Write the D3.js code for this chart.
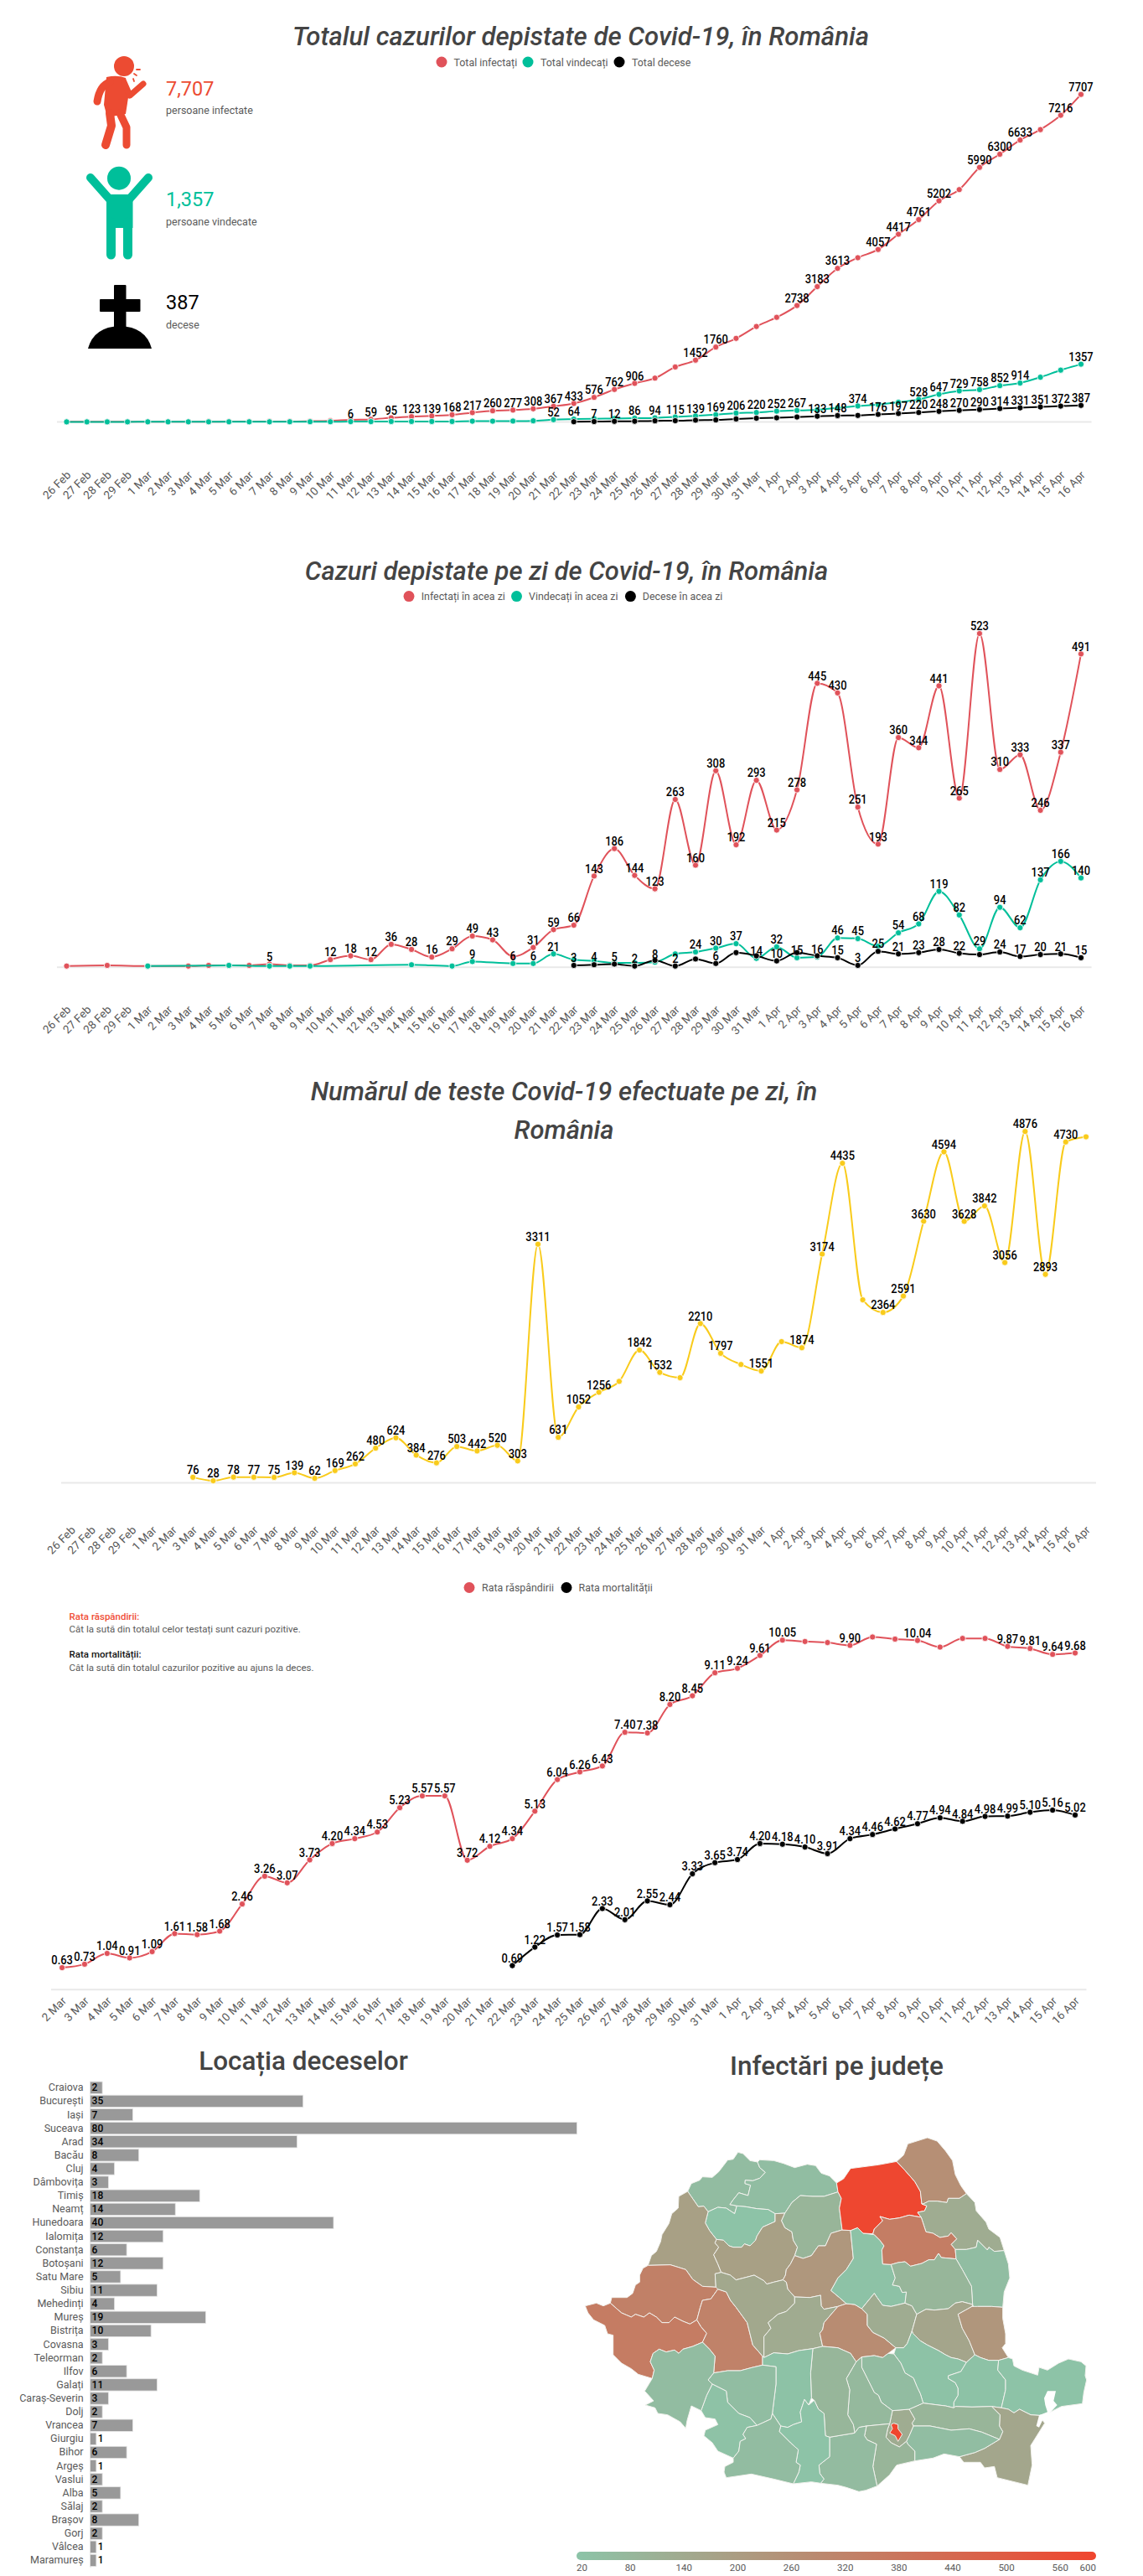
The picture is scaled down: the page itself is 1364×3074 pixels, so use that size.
<!DOCTYPE html>
<html>
<head>
<meta charset="utf-8">
<script src="https://d3js.org/d3.v7.min.js"></script>
<style>
  html, body { margin: 0; padding: 0; background: #fff; }
  svg { display: block; font-family: Roboto, sans-serif; }
</style>
</head>
<body>
<svg id="chart" width="1364" height="3074"></svg>
<script>
// Etichete zile
const daysAll = ["26 Feb","27 Feb","28 Feb","29 Feb","1 Mar","2 Mar","3 Mar","4 Mar","5 Mar","6 Mar","7 Mar","8 Mar","9 Mar","10 Mar","11 Mar","12 Mar","13 Mar","14 Mar","15 Mar","16 Mar","17 Mar","18 Mar","19 Mar","20 Mar","21 Mar","22 Mar","23 Mar","24 Mar","25 Mar","26 Mar","27 Mar","28 Mar","29 Mar","30 Mar","31 Mar","1 Apr","2 Apr","3 Apr","4 Apr","5 Apr","6 Apr","7 Apr","8 Apr","9 Apr","10 Apr","11 Apr","12 Apr","13 Apr","14 Apr","15 Apr","16 Apr"];
const daysRate = daysAll.slice(5);

// Total cazuri
const totalInfected = [1,1,1,3,3,3,3,4,6,7,9,9,15,25,47,59,95,123,139,168,217,260,277,308,367,433,576,762,906,1029,1292,1452,1760,1965,2245,2460,2738,3183,3613,3864,4057,4417,4761,5202,5467,5990,6300,6633,6879,7216,7707];
const totalRecovered = [0,0,0,0,1,1,1,1,2,2,2,3,3,3,6,6,9,9,9,9,16,16,19,25,52,64,74,79,86,94,115,139,169,206,220,252,267,283,329,374,407,460,528,647,729,758,852,914,1051,1217,1357];
const totalDeaths = [null,null,null,null,null,null,null,null,null,null,null,null,null,null,null,null,null,null,null,null,null,null,null,null,null,3,7,12,14,25,27,39,45,68,86,96,115,133,148,151,176,197,220,248,270,290,314,331,351,372,387];
const totalInfectedNoLabel = [0,1,2,3,4,5,6,7,8,9,10,11,12,13,14,29,30,33,34,35,39,44,48];
const totalRecoveredLabels = [14,24,25,28,29,30,31,32,33,34,35,36,39,42,43,44,45,46,47,50];
const totalDeathsLabels = [26,27,37,38,40,41,42,43,44,45,46,47,48,49,50];

// Cazuri pe zi
const dailyInfected = [2,null,3,null,2,null,2,3,3,3,5,3,3,12,18,12,36,28,16,29,49,43,17,31,59,66,143,186,144,123,263,160,308,192,293,215,278,445,430,251,193,360,344,441,265,523,310,333,246,337,491];
const dailyRecovered = [null,null,null,null,2,null,null,null,3,null,2,2,2,null,null,null,null,4,null,2,9,null,6,6,21,12,10,7,7,8,21,24,30,37,14,32,15,16,46,45,33,54,68,119,82,29,94,62,137,166,140];
const dailyDeaths = [null,null,null,null,null,null,null,null,null,null,null,null,null,null,null,null,null,null,null,null,null,null,null,null,null,3,4,5,2,11,2,13,6,23,18,10,23,18,15,3,25,21,23,28,22,20,24,17,20,21,15];
const dailyInfectedLabels = [10,13,14,15,16,17,18,19,20,21,23,24,25,26,27,28,29,30,31,32,33,34,35,36,37,38,39,40,41,42,43,44,45,46,47,48,49,50];
const dailyRecoveredLabels = [20,22,23,24,29,31,32,33,34,35,36,37,38,39,41,42,43,44,45,46,47,48,49,50];
const dailyDeathsLabels = [25,26,27,28,30,32,35,38,39,40,41,42,43,44,46,47,48,49,50];

// Teste pe zi
const dailyTests = [null,null,null,null,null,null,76,28,78,77,75,139,62,169,262,480,624,384,276,503,442,520,303,3311,631,1052,1256,1407,1842,1532,1458,2210,1797,1642,1551,1959,1874,3174,4435,2539,2364,2591,3630,4594,3628,3842,3056,4876,2893,4730,4802];
const testsNoLabel = [27,30,33,35,39,50];

// Rate
const spreadRate = [0.63,0.73,1.04,0.91,1.09,1.61,1.58,1.68,2.46,3.26,3.07,3.73,4.20,4.34,4.53,5.23,5.57,5.57,3.72,4.12,4.34,5.13,6.04,6.26,6.43,7.40,7.38,8.20,8.45,9.11,9.24,9.61,10.05,10.01,9.98,9.90,10.14,10.08,10.04,9.85,10.10,10.10,9.87,9.81,9.64,9.68];
const deathRate = [null,null,null,null,null,null,null,null,null,null,null,null,null,null,null,null,null,null,null,null,0.69,1.22,1.57,1.58,2.33,2.01,2.55,2.44,3.33,3.65,3.74,4.20,4.18,4.10,3.91,4.34,4.46,4.62,4.77,4.94,4.84,4.98,4.99,5.10,5.16,5.02];
const spreadNoLabel = [33,34,36,37,39,40,41];

// Locatia deceselor
const deathPlaces = ["Craiova","București","Iași","Suceava","Arad","Bacău","Cluj","Dâmbovița","Timiș","Neamț","Hunedoara","Ialomița","Constanța","Botoșani","Satu Mare","Sibiu","Mehedinți","Mureș","Bistrița","Covasna","Teleorman","Ilfov","Galați","Caraș-Severin","Dolj","Vrancea","Giurgiu","Bihor","Argeș","Vaslui","Alba","Sălaj","Brașov","Gorj","Vâlcea","Maramureș"];
const deathCounts = [2,35,7,80,34,8,4,3,18,14,40,12,6,12,5,11,4,19,10,3,2,6,11,3,2,7,1,6,1,2,5,2,8,2,1,1];

// Harta: cazuri pe judet si contururi (unitati de harta)
const countyCases = {
  "Satu Mare":55,"Maramureș":50,"Sălaj":25,"Bihor":185,"Cluj":185,"Bistrița":90,"Mureș":225,"Arad":330,"Timiș":350,"Hunedoara":320,
  "Alba":150,"Sibiu":135,"Brașov":275,"Harghita":28,"Covasna":130,"Suceava":590,"Botoșani":262,"Iași":130,"Neamț":345,"Vaslui":50,
  "Bacău":85,"Vrancea":160,"Galați":230,"Buzău":28,"Brăila":28,"Tulcea":25,"Constanța":155,"Ialomița":90,"Călărași":50,"Ilfov":130,
  "București":600,"Prahova":55,"Dâmbovița":70,"Giurgiu":90,"Teleorman":60,"Argeș":85,"Vâlcea":28,"Olt":25,"Gorj":50,"Mehedinți":30,"Dolj":55,"Caraș-Severin":55
};
const countyShapes = {
  "Satu Mare":[[392,210],[405,182],[435,170],[445,158],[480,160],[503,140],[520,118],[535,98],[555,95],[572,70],[590,75],[615,100],[642,105],[650,125],[670,142],[650,163],[625,172],[598,170],[597,182],[617,188],[608,225],[575,215],[555,240],[543,257],[568,262],[560,290],[530,270],[500,267],[465,283],[450,263],[430,265]],
  "Maramureș":[[642,105],[650,97],[700,100],[735,110],[775,125],[820,113],[850,118],[870,145],[900,155],[925,180],[930,212],[880,228],[840,228],[795,225],[765,250],[740,288],[705,290],[680,275],[640,272],[600,265],[568,262],[543,257],[555,240],[575,215],[608,225],[617,188],[597,182],[598,170],[625,172],[650,163],[670,142],[650,125]],
  "Sălaj":[[465,283],[500,267],[530,270],[560,290],[568,262],[600,265],[640,272],[680,275],[705,290],[705,318],[660,338],[640,370],[635,385],[615,405],[595,398],[585,410],[555,410],[540,405],[520,385],[495,382],[470,350],[455,323]],
  "Bihor":[[392,210],[360,228],[358,270],[335,290],[325,325],[300,365],[295,390],[280,425],[262,440],[250,475],[330,473],[385,490],[410,525],[445,550],[493,553],[490,505],[512,500],[500,470],[485,437],[503,410],[490,395],[495,382],[470,350],[455,323],[465,283],[450,263],[430,265]],
  "Cluj":[[495,382],[520,385],[540,405],[555,410],[585,410],[595,398],[615,405],[635,385],[640,370],[660,338],[705,318],[705,290],[740,288],[728,315],[740,340],[765,355],[770,385],[785,410],[775,440],[760,470],[745,490],[742,510],[733,527],[700,535],[675,542],[665,530],[630,510],[600,518],[565,527],[545,510],[512,500],[500,470],[485,437],[503,410],[490,395]],
  "Bistrița":[[740,288],[765,250],[795,225],[840,228],[880,228],[930,212],[942,235],[935,270],[945,348],[905,360],[885,405],[860,405],[835,440],[805,450],[775,440],[785,410],[770,385],[765,355],[740,340],[728,315]],
  "Mureș":[[775,440],[805,450],[835,440],[860,405],[885,405],[905,360],[945,348],[975,350],[980,400],[985,450],[960,490],[930,520],[905,565],[935,590],[960,612],[930,622],[880,632],[870,620],[868,582],[830,590],[775,588],[750,560],[745,535],[733,527],[742,510],[745,490],[760,470]],
  "Arad":[[250,475],[330,473],[385,490],[410,525],[445,550],[493,553],[500,560],[475,595],[445,600],[437,625],[425,670],[400,685],[375,675],[345,660],[325,680],[300,680],[280,660],[255,645],[235,660],[205,650],[190,660],[155,645],[115,610],[120,590],[175,590],[195,575],[205,545],[220,535],[220,510],[232,485]],
  "Timiș":[[115,610],[155,645],[190,660],[205,650],[235,660],[255,645],[280,660],[300,680],[325,680],[345,660],[375,675],[400,685],[425,670],[440,695],[460,718],[445,750],[410,765],[375,775],[360,790],[345,778],[315,785],[290,775],[268,790],[258,820],[272,850],[265,880],[215,865],[190,845],[155,825],[125,795],[125,725],[105,720],[95,690],[55,670],[35,645],[25,620],[65,610],[90,620]],
  "Hunedoara":[[500,560],[530,570],[545,600],[565,625],[605,680],[625,760],[660,800],[660,832],[625,840],[580,852],[535,852],[485,860],[490,800],[470,775],[445,750],[460,718],[440,695],[425,670],[437,625],[445,600],[475,595]],
  "Alba":[[500,560],[493,553],[490,505],[512,500],[545,510],[565,527],[600,518],[630,510],[665,530],[675,542],[700,535],[733,527],[745,535],[750,560],[775,588],[775,610],[745,640],[715,650],[680,680],[690,700],[665,730],[665,805],[660,800],[625,760],[605,680],[565,625],[545,600],[530,570]],
  "Sibiu":[[775,588],[830,590],[868,582],[870,620],[880,632],[930,622],[880,680],[875,705],[865,718],[875,765],[840,773],[790,780],[750,792],[700,788],[665,805],[665,730],[690,700],[680,680],[715,650],[745,640],[775,610]],
  "Brașov":[[930,622],[960,612],[990,615],[1015,630],[1035,650],[1035,690],[1055,715],[1095,735],[1137,770],[1110,790],[1090,805],[1060,798],[1015,803],[995,820],[975,790],[930,770],[875,765],[865,718],[875,705],[880,680]],
  "Harghita":[[975,350],[1000,340],[1020,360],[1060,365],[1080,385],[1095,405],[1087,420],[1090,470],[1120,472],[1135,520],[1125,545],[1150,550],[1160,572],[1175,570],[1170,610],[1120,622],[1090,618],[1070,590],[1060,575],[1015,630],[990,615],[960,612],[935,590],[905,565],[930,520],[960,490],[985,450],[980,400]],
  "Covasna":[[1015,630],[1060,575],[1070,590],[1090,618],[1120,622],[1170,610],[1195,620],[1212,650],[1195,710],[1178,755],[1165,770],[1137,770],[1095,735],[1055,715],[1035,690],[1035,650]],
  "Suceava":[[925,180],[950,165],[975,128],[1075,115],[1140,103],[1170,135],[1205,175],[1225,210],[1230,255],[1248,262],[1240,280],[1215,285],[1228,303],[1185,295],[1150,305],[1115,310],[1080,300],[1090,315],[1060,345],[1055,362],[1020,360],[1000,340],[975,350],[945,348],[935,270],[942,235],[930,212]],
  "Botoșani":[[1140,103],[1165,80],[1180,40],[1250,18],[1285,30],[1315,65],[1340,100],[1350,150],[1370,190],[1390,218],[1365,235],[1325,235],[1320,250],[1285,245],[1255,245],[1235,255],[1230,255],[1225,210],[1205,175],[1170,135]],
  "Iași":[[1230,255],[1235,255],[1255,245],[1285,245],[1320,250],[1325,235],[1365,235],[1390,218],[1420,250],[1425,280],[1460,320],[1470,345],[1510,375],[1525,422],[1490,425],[1470,410],[1465,420],[1430,385],[1425,410],[1390,418],[1350,418],[1335,400],[1355,380],[1335,358],[1325,370],[1295,375],[1270,360],[1245,355],[1228,303],[1215,285],[1240,280],[1248,262]],
  "Neamț":[[1055,362],[1060,365],[1080,385],[1095,405],[1087,420],[1090,470],[1120,472],[1145,465],[1170,462],[1190,478],[1230,468],[1255,455],[1275,455],[1290,432],[1300,447],[1353,452],[1350,418],[1335,400],[1355,380],[1335,358],[1325,370],[1295,375],[1270,360],[1245,355],[1228,303],[1185,295],[1150,305],[1115,310],[1080,300],[1090,315],[1060,345]],
  "Vaslui":[[1353,452],[1350,418],[1390,418],[1425,410],[1430,385],[1465,420],[1470,410],[1490,425],[1525,422],[1540,470],[1545,520],[1525,570],[1520,625],[1480,622],[1430,622],[1425,650],[1412,615],[1408,550],[1375,490]],
  "Bacău":[[1120,472],[1145,465],[1170,462],[1190,478],[1230,468],[1255,455],[1275,455],[1290,432],[1300,447],[1353,452],[1375,490],[1408,550],[1412,615],[1375,605],[1350,610],[1325,630],[1275,635],[1245,632],[1212,650],[1195,620],[1170,610],[1175,570],[1160,572],[1150,550],[1125,545],[1135,520]],
  "Vrancea":[[1212,650],[1245,632],[1275,635],[1325,630],[1350,610],[1375,605],[1412,615],[1410,622],[1360,650],[1375,700],[1400,745],[1420,795],[1390,822],[1360,810],[1335,805],[1315,795],[1290,780],[1250,760],[1225,745],[1198,718],[1195,710]],
  "Galați":[[1360,650],[1410,622],[1430,622],[1480,622],[1520,625],[1520,665],[1530,720],[1530,755],[1518,770],[1540,805],[1505,815],[1470,815],[1440,805],[1420,795],[1400,745],[1375,700]],
  "Buzău":[[1195,710],[1198,718],[1225,745],[1250,760],[1290,780],[1315,795],[1335,805],[1360,810],[1390,822],[1370,855],[1325,870],[1325,880],[1350,895],[1360,915],[1360,940],[1345,965],[1345,985],[1315,978],[1290,975],[1235,968],[1225,935],[1213,910],[1200,878],[1170,860],[1155,825],[1130,792],[1137,770],[1165,770],[1178,755]],
  "Brăila":[[1390,822],[1420,795],[1440,805],[1470,815],[1505,815],[1502,850],[1530,885],[1530,920],[1515,985],[1480,980],[1410,982],[1350,980],[1345,985],[1345,965],[1360,940],[1360,915],[1350,895],[1325,880],[1325,870],[1370,855]],
  "Tulcea":[[1540,805],[1555,810],[1560,835],[1590,850],[1645,868],[1650,840],[1680,850],[1720,825],[1755,810],[1800,820],[1818,835],[1815,870],[1820,885],[1810,930],[1805,970],[1730,980],[1700,995],[1680,1005],[1650,1012],[1620,1010],[1580,990],[1560,1003],[1540,990],[1515,985],[1530,920],[1530,885],[1502,850],[1505,815]],
  "Constanța":[[1480,980],[1510,1010],[1508,1050],[1520,1070],[1508,1098],[1455,1130],[1420,1145],[1365,1160],[1380,1180],[1440,1180],[1455,1200],[1490,1195],[1500,1235],[1610,1262],[1625,1190],[1620,1120],[1645,1080],[1670,1040],[1650,1012],[1620,1010],[1580,990],[1560,1003],[1540,990],[1515,985]],
  "Ialomița":[[1185,990],[1235,968],[1290,975],[1315,978],[1345,985],[1350,980],[1410,982],[1480,980],[1510,1010],[1508,1050],[1520,1070],[1508,1098],[1445,1072],[1400,1060],[1335,1065],[1260,1050],[1200,1050],[1195,1040],[1205,1025]],
  "Călărași":[[1200,1050],[1260,1050],[1335,1065],[1400,1060],[1445,1072],[1508,1098],[1455,1130],[1420,1145],[1365,1160],[1310,1150],[1270,1165],[1205,1175],[1205,1140],[1180,1115],[1175,1105],[1185,1085]],
  "Ilfov":[[1115,1042],[1125,995],[1185,990],[1205,1025],[1195,1040],[1200,1050],[1185,1085],[1175,1105],[1150,1125],[1120,1110],[1102,1090],[1108,1060]],
  "București":[[1130,1040],[1145,1045],[1145,1060],[1160,1080],[1145,1105],[1135,1085],[1115,1075],[1125,1060],[1120,1045]],
  "Prahova":[[1015,803],[1060,798],[1090,805],[1110,790],[1130,792],[1155,825],[1170,860],[1200,878],[1213,910],[1225,935],[1235,968],[1185,990],[1125,995],[1085,965],[1075,940],[1060,930],[1035,880],[1015,840]],
  "Dâmbovița":[[995,820],[1015,803],[1015,840],[1035,880],[1060,930],[1075,940],[1085,965],[1125,995],[1115,1042],[1032,1050],[1005,1055],[990,1075],[985,1045],[965,1010],[972,920],[960,880]],
  "Giurgiu":[[1032,1050],[1115,1042],[1108,1060],[1102,1090],[1120,1110],[1150,1125],[1175,1105],[1180,1115],[1205,1140],[1205,1175],[1140,1190],[1115,1225],[1070,1265],[1055,1195],[1068,1115],[1035,1100],[1025,1085]],
  "Teleorman":[[900,1090],[930,1085],[990,1075],[1005,1055],[1032,1050],[1025,1085],[1035,1100],[1068,1115],[1055,1195],[1070,1265],[1030,1280],[1005,1285],[960,1270],[930,1262],[868,1255],[880,1240],[865,1220],[862,1190],[900,1160]],
  "Argeș":[[840,773],[875,765],[930,770],[975,790],[995,820],[960,880],[972,920],[965,1010],[985,1045],[990,1075],[930,1085],[900,1090],[885,1085],[880,1005],[860,990],[845,958],[835,950],[832,860]],
  "Vâlcea":[[665,805],[700,788],[750,792],[790,780],[840,773],[832,860],[835,950],[825,975],[810,955],[795,1000],[800,1035],[770,1045],[750,1055],[725,1050],[695,1005],[708,900],[708,838],[660,832],[660,800]],
  "Olt":[[725,1050],[750,1055],[770,1045],[800,1035],[795,1000],[810,955],[825,975],[845,958],[860,990],[880,1005],[885,1085],[900,1090],[900,1160],[862,1190],[865,1220],[880,1240],[868,1255],[835,1250],[770,1257],[790,1215],[795,1190],[780,1180],[788,1135],[760,1110],[720,1070]],
  "Gorj":[[660,832],[708,838],[708,900],[695,1005],[690,1025],[640,1048],[615,1020],[575,1005],[535,965],[530,925],[510,915],[480,900],[465,885],[485,860],[535,852],[580,852],[625,840]],
  "Mehedinți":[[480,900],[510,915],[530,925],[535,965],[575,1005],[615,1020],[640,1048],[605,1055],[590,1080],[600,1095],[580,1105],[575,1140],[555,1165],[500,1140],[480,1110],[450,1085],[455,1065],[500,1045],[490,1025],[455,1020],[440,995],[460,940]],
  "Dolj":[[640,1048],[690,1025],[695,1005],[725,1050],[720,1070],[760,1110],[788,1135],[780,1180],[795,1190],[790,1215],[770,1257],[700,1240],[620,1222],[530,1235],[522,1215],[525,1195],[555,1180],[555,1165],[575,1140],[580,1105],[600,1095],[590,1080],[605,1055]],
  "Caraș-Severin":[[445,750],[470,775],[490,800],[485,860],[465,885],[480,900],[460,940],[440,995],[405,978],[390,1030],[385,1058],[365,1035],[320,1010],[285,1005],[275,985],[240,975],[270,960],[238,925],[265,880],[272,850],[258,820],[268,790],[290,775],[315,785],[345,778],[360,790],[375,775],[410,765]]
};
const deltaLagoon = [[1668,950],[1680,925],[1710,925],[1702,960],[1715,975],[1692,1000],[1668,1018],[1650,1055],[1640,1050],[1650,1012],[1680,1000],[1672,975]];

// Scala harta
const legendTicks = [20,80,140,200,260,320,380,440,500,560,600];

const RED = "#E0525A", TEAL = "#00BF9A", YELLOW = "#F9CB1B", BLACK = "#000";
const GREY_TITLE = "#444", GREY_TEXT = "#5a5a5a";

const svg = d3.select("#chart");

function title(lines, cx, ys, italic, size) {
  lines.forEach((t, i) => {
    svg.append("text").attr("x", cx).attr("y", ys[i]).attr("text-anchor", "middle")
      .attr("dominant-baseline", "central")
      .style("font-size", size + "px").style("font-weight", 500)
      .style("font-style", italic ? "italic" : "normal").attr("fill", GREY_TITLE).text(t);
  });
}

function legend(items, y) {
  items.forEach(d => {
    svg.append("circle").attr("cx", d.cx).attr("cy", y).attr("r", 6.5).attr("fill", d.color);
    svg.append("text").attr("x", d.tx).attr("y", y).attr("dominant-baseline", "central")
      .style("font-size", "12.4px").attr("fill", GREY_TEXT).text(d.text);
  });
}

// grafic cu linii: axa x, linie de baza, serii, etichete
function lineChart(o) {
  const x = d3.scalePoint().domain(o.days).range(o.xRange);
  const y = d3.scaleLinear().domain(o.yDomain).range(o.yRange);

  svg.append("line").attr("x1", o.baseX[0]).attr("x2", o.baseX[1])
    .attr("y1", o.yRange[0]).attr("y2", o.yRange[0])
    .attr("stroke", "#e9e9e9").attr("stroke-width", 2);

  const axis = svg.append("g").attr("transform", `translate(0,${o.yRange[0] + o.axisGap})`)
    .call(d3.axisBottom(x).tickSize(0).tickPadding(0));
  axis.select(".domain").remove();
  axis.selectAll("text")
    .attr("text-anchor", "end").attr("dy", "0.35em")
    .attr("transform", "translate(2,6) rotate(-45)")
    .attr("fill", "#5a5a5a").style("font-size", "13.5px").style("font-family", "Roboto, sans-serif");

  const line = d3.line().x(d => x(d.day)).y(d => y(d.v)).curve(d3.curveMonotoneX);

  o.series.forEach(s => {
    const pts = s.values.map((v, i) => ({ day: o.days[i], v: v, i: i })).filter(d => d.v !== null);
    svg.append("path").attr("d", line(pts)).attr("fill", "none")
      .attr("stroke", s.color).attr("stroke-width", 2);
    svg.append("g").selectAll("circle").data(pts).enter().append("circle")
      .attr("cx", d => x(d.day)).attr("cy", d => y(d.v)).attr("r", 3.6)
      .attr("fill", s.color).attr("stroke", "#fff").attr("stroke-width", 0.8);
  });

  o.series.forEach(s => {
    const pts = s.values.map((v, i) => ({ day: o.days[i], v: v, i: i }))
      .filter(d => d.v !== null && s.labelled(d.i));
    svg.append("g").selectAll("text").data(pts).enter().append("text")
      .attr("x", d => x(d.day)).attr("y", d => y(d.v) - 3.8).attr("text-anchor", "middle")
      .style("font-size", "14px").style("font-weight", 500).attr("fill", "#000")
      .text(d => o.format ? o.format(d.v) : d.v)
      // cifrele din original sunt mai inguste
      .each(function () {
        d3.select(this).attr("textLength", this.getComputedTextLength() * 0.92)
          .attr("lengthAdjust", "spacingAndGlyphs");
      });
  });
}

const only = list => i => list.includes(i);
const except = list => i => !list.includes(i);

// 1. Total
title(["Totalul cazurilor depistate de Covid-19, în România"], 693, [43], true, 31.2);
legend([
  { cx: 527, tx: 541.5, color: RED, text: "Total infectați" },
  { cx: 630, tx: 645, color: TEAL, text: "Total vindecați" },
  { cx: 739, tx: 754, color: BLACK, text: "Total decese" }
], 74);
lineChart({
  days: daysAll, xRange: [79.5, 1290], baseX: [68, 1302.6],
  yDomain: [0, 7707], yRange: [503.4, 112.7], axisGap: 55,
  series: [
    { values: totalInfected, color: RED, labelled: except(totalInfectedNoLabel) },
    { values: totalRecovered, color: TEAL, labelled: only(totalRecoveredLabels) },
    { values: totalDeaths, color: BLACK, labelled: only(totalDeathsLabels) }
  ]
});

// pictograme si totaluri
const iconRed = svg.append("g").attr("fill", "#EC4B32").attr("stroke", "#EC4B32").attr("stroke-linecap", "round").attr("stroke-linejoin", "round").attr("fill-opacity", 1);
iconRed.append("circle").attr("cx", 148).attr("cy", 79).attr("r", 12).attr("stroke", "none");
iconRed.append("path").attr("stroke", "none").attr("d", "M127 92 Q140 89 150 93 L154 110 L150 136 L128 140 L124 125 Z");
iconRed.append("path").attr("fill", "none").attr("stroke-width", 9).attr("d", "M131 98 Q119 102 116 121");
iconRed.append("path").attr("fill", "none").attr("stroke-width", 7).attr("d", "M148 98 L155 114 L171 100");
iconRed.append("path").attr("fill", "none").attr("stroke-width", 10).attr("d", "M131 135 L133 150 L126 173");
iconRed.append("path").attr("fill", "none").attr("stroke-width", 9).attr("d", "M143 135 L151 152 L151 173");
iconRed.append("path").attr("fill", "none").attr("stroke-width", 1.8).attr("d", "M163 83 L167 83 M160 88 L163 90 M159 94 L160 97");

const iconTeal = svg.append("g").attr("fill", TEAL).attr("stroke", TEAL).attr("stroke-linecap", "round").attr("stroke-linejoin", "round");
iconTeal.append("circle").attr("cx", 142).attr("cy", 212.7).attr("r", 14).attr("stroke", "none");
iconTeal.append("path").attr("stroke", "none").attr("d", "M127 232 L158.5 232 L158.5 272 L127 272 Z");
iconTeal.append("path").attr("fill", "none").attr("stroke-width", 10).attr("d", "M108 212 L131 238 M177 212 L154 238");
iconTeal.append("path").attr("fill", "none").attr("stroke-width", 11).attr("d", "M132.5 265 L132.5 304 M152.5 265 L152.5 304");

const iconGrave = svg.append("g").attr("fill", "#000");
iconGrave.append("rect").attr("x", 136).attr("y", 340).attr("width", 14.5).attr("height", 55).attr("rx", 1);
iconGrave.append("rect").attr("x", 119).attr("y", 357).attr("width", 48.5).attr("height", 15).attr("rx", 1);
iconGrave.append("path").attr("d", "M105 416 Q112 390 143 389 Q174 390 181 416 Z");

[
  { big: "7,707", small: "persoane infectate", color: "#EC4B32", y1: 105.6, y2: 131 },
  { big: "1,357", small: "persoane vindecate", color: TEAL, y1: 238, y2: 264 },
  { big: "387", small: "decese", color: "#000", y1: 361, y2: 387 }
].forEach(d => {
  svg.append("text").attr("x", 198).attr("y", d.y1).attr("dominant-baseline", "central")
    .style("font-size", "23.5px").attr("fill", d.color).text(d.big);
  svg.append("text").attr("x", 198).attr("y", d.y2).attr("dominant-baseline", "central")
    .style("font-size", "12.5px").attr("fill", GREY_TEXT).text(d.small);
});

// 2. Pe zi
title(["Cazuri depistate pe zi de Covid-19, în România"], 676, [681], true, 31);
legend([
  { cx: 488, tx: 502.7, color: RED, text: "Infectați în acea zi" },
  { cx: 616.5, tx: 631, color: TEAL, text: "Vindecați în acea zi" },
  { cx: 752.4, tx: 766.8, color: BLACK, text: "Decese în acea zi" }
], 711.6);
lineChart({
  days: daysAll, xRange: [79.5, 1290], baseX: [68, 1302.6],
  yDomain: [0, 523], yRange: [1154.3, 756], axisGap: 42,
  series: [
    { values: dailyInfected, color: RED, labelled: only(dailyInfectedLabels) },
    { values: dailyRecovered, color: TEAL, labelled: only(dailyRecoveredLabels) },
    { values: dailyDeaths, color: BLACK, labelled: only(dailyDeathsLabels) }
  ]
});

// 3. Teste
title(["Numărul de teste Covid-19 efectuate pe zi, în", "România"], 673, [1302.4, 1348], true, 31);
lineChart({
  days: daysAll, xRange: [84.9, 1296], baseX: [73, 1308],
  yDomain: [0, 4876], yRange: [1769.4, 1350.2], axisGap: 48,
  series: [{ values: dailyTests, color: YELLOW, labelled: except(testsNoLabel) }]
});

// 4. Rate
legend([
  { cx: 560, tx: 575, color: RED, text: "Rata răspândirii" },
  { cx: 676, tx: 690.5, color: BLACK, text: "Rata mortalității" }
], 1894.5);
[
  { text: "Rata răspândirii:", y: 1929, fill: "#F04E37", weight: 500 },
  { text: "Cât la sută din totalul celor testați sunt cazuri pozitive.", y: 1944, fill: GREY_TEXT, weight: 400 },
  { text: "Rata mortalității:", y: 1974.4, fill: "#111", weight: 500 },
  { text: "Cât la sută din totalul cazurilor pozitive au ajuns la deces.", y: 1989.5, fill: GREY_TEXT, weight: 400 }
].forEach(d => {
  svg.append("text").attr("x", 82.6).attr("y", d.y).attr("dominant-baseline", "central")
    .style("font-size", "11.5px").style("font-weight", d.weight).attr("fill", d.fill).text(d.text);
});
lineChart({
  days: daysRate, xRange: [74.1, 1283], baseX: [61, 1296.5],
  yDomain: [0, 10.05], yRange: [2374.2, 1957.2], axisGap: 5,
  format: d3.format(".2f"),
  series: [
    { values: spreadRate, color: RED, labelled: except(spreadNoLabel) },
    { values: deathRate, color: BLACK, labelled: i => true }
  ]
});

// 5. Locatia deceselor
title(["Locația deceselor"], 362, [2459], false, 31.5);
const barY = d3.scaleBand().domain(deathPlaces).range([2483.3, 3063.4]).paddingInner(0.11).paddingOuter(0.05);
const barX = d3.scaleLinear().domain([0, 80]).range([107.6, 688.4]);
const barAxis = svg.append("g").attr("transform", "translate(107.6,0)")
  .call(d3.axisLeft(barY).tickSize(0).tickPadding(8));
barAxis.select(".domain").attr("stroke", "#ddd");
barAxis.selectAll("text").attr("fill", GREY_TEXT).style("font-size", "12.5px").style("font-family", "Roboto, sans-serif");

const barRows = deathPlaces.map((p, i) => ({ place: p, value: deathCounts[i] }));
svg.append("g").selectAll("rect").data(barRows).enter().append("rect")
  .attr("x", barX(0)).attr("y", d => barY(d.place))
  .attr("width", d => barX(d.value) - barX(0)).attr("height", barY.bandwidth())
  .attr("fill", "#999").attr("stroke", "#e4e4e4").attr("stroke-width", 0.8);
svg.append("g").selectAll("text").data(barRows).enter().append("text")
  .attr("x", d => d.value > 1 ? barX(0) + 2 : barX(d.value) + 2)
  .attr("y", d => barY(d.place) + barY.bandwidth() / 2).attr("dominant-baseline", "central")
  .style("font-size", "12px").style("font-weight", 500).attr("fill", "#000").text(d => d.value);

// 6. Harta
title(["Infectări pe județe"], 998.5, [2465], false, 31.5);
const mapColor = d3.scaleLinear().domain([20, 600]).range(["#8CC4A8", "#F0452E"]);
const mapX = d3.scaleLinear().domain([0, 930]).range([690, 1000]);
const mapY = d3.scaleLinear().domain([0, 1305]).range([2545, 2980]);
const mapPath = d3.line().x(d => mapX(d[0])).y(d => mapY(d[1]));

svg.append("g").selectAll("path").data(Object.keys(countyShapes)).enter().append("path")
  .attr("d", d => mapPath(countyShapes[d]) + "Z")
  .attr("fill", d => mapColor(countyCases[d]))
  .attr("stroke", "#f2f2ee").attr("stroke-width", 1).attr("stroke-linejoin", "round")
  .append("title").text(d => d);
svg.append("path").attr("d", mapPath(deltaLagoon) + "Z").attr("fill", "#fff");

const legendScale = d3.scaleLinear().domain([20, 600]).range([688, 1308]);
const grad = svg.append("defs").append("linearGradient").attr("id", "mapGrad");
grad.append("stop").attr("offset", "0%").attr("stop-color", mapColor(20));
grad.append("stop").attr("offset", "100%").attr("stop-color", mapColor(600));
svg.append("rect").attr("x", legendScale(20)).attr("y", 3045).attr("width", legendScale(600) - legendScale(20))
  .attr("height", 10).attr("rx", 5).attr("fill", "url(#mapGrad)");
svg.append("g").selectAll("text").data(legendTicks).enter().append("text")
  .attr("x", d => legendScale(d)).attr("y", 3064).attr("dominant-baseline", "central")
  .attr("text-anchor", d => d === 20 ? "start" : d === 600 ? "end" : "middle")
  .style("font-size", "11.5px").attr("fill", GREY_TEXT).text(d => d);
</script>
</body>
</html>
